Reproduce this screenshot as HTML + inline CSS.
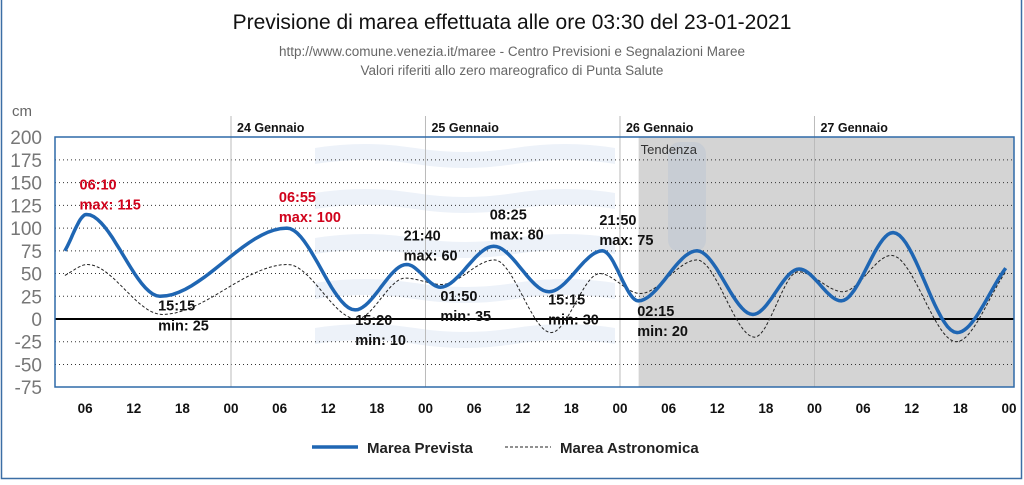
<!DOCTYPE html>
<html><head><meta charset="utf-8"><style>
body{margin:0;background:#fff;width:1024px;height:480px;overflow:hidden;font-family:"Liberation Sans",sans-serif}
</style></head><body>
<svg id="c" width="1024" height="480" xmlns="http://www.w3.org/2000/svg" font-family="Liberation Sans, sans-serif">
<rect x="1.5" y="-2" width="1020" height="480.5" fill="none" stroke="#3b6ea5" stroke-width="1.5"/>
<text x="512" y="29" font-size="21" text-anchor="middle" fill="#111">Previsione di marea effettuata alle ore 03:30 del 23-01-2021</text>
<text x="512" y="56" font-size="13.5" text-anchor="middle" fill="#666">http://www.comune.venezia.it/maree - Centro Previsioni e Segnalazioni Maree</text>
<text x="512" y="75" font-size="13.5" text-anchor="middle" fill="#666">Valori riferiti allo zero mareografico di Punta Salute</text>
<text x="12" y="116" font-size="15" fill="#666">cm</text>
<g id="bg"></g><g id="grid"></g><g id="marks"></g><g id="labels"></g>
<g>
<line x1="312" y1="447" x2="358" y2="447" stroke="#1f66b3" stroke-width="3.5"/>
<text x="367" y="453" font-size="15" font-weight="bold" fill="#222">Marea Prevista</text>
<line x1="505" y1="447" x2="551" y2="447" stroke="#222" stroke-width="1" stroke-dasharray="3,2"/>
<text x="560" y="453" font-size="15" font-weight="bold" fill="#222">Marea Astronomica</text>
</g>
</svg>
<script>
const yTicks=[200,175,150,125,100,75,50,25,0,-25,-50,-75];
const dayLabels=["24 Gennaio","25 Gennaio","26 Gennaio","27 Gennaio"];
const xTickLabels=["06","12","18","00","06","12","18","00","06","12","18","00","06","12","18","00","06","12","18","00"];
const prevHours=[3.5,6.17,15.25,30.9,39.33,45.67,49.83,56.42,63.25,69.83,74.25,81.5,88.4,94.1,99.3,105.7,113.6,119.6];
const prevValues=[75,115,25,100,10,60,35,80,30,75,20,75,5,55,20,95,-15,56];
const astroHours=[3.5,6.3,15.5,31,39.5,45.5,50,56.5,63.5,69.5,74.5,81.5,88.6,94,99.5,105.5,113.5,119.6];
const astroValues=[48,60,5,60,0,45,38,65,-15,50,28,65,-20,52,30,70,-25,52];
const annotTimes=["06:10","06:55","15:15","21:40","01:50","08:25","15:20","15:15","21:50","02:15"];
const annotTexts=["max: 115","max: 100","min: 25","max: 60","min: 35","max: 80","min: 10","min: 30","max: 75","min: 20"];
const annotHours=[6.17,30.9,15.25,45.67,49.83,56.42,39.33,63.25,69.83,74.25];
const annotValues=[115,100,25,60,35,80,10,30,75,20];
const tendenzaStart=74.3;

const L=55,R=1014,T=137,B=387;
const X=h=>231+(h-24)*8.104;
const Y=v=>319-v*(250/275);
const NS="http://www.w3.org/2000/svg";
function mk(p,t,a){const e=document.createElementNS(NS,t);for(const k in a)e.setAttribute(k,a[k]);p.appendChild(e);return e;}
const bg=document.getElementById('bg'),grid=document.getElementById('grid'),marks=document.getElementById('marks'),lab=document.getElementById('labels');

for(let i=0;i<5;i++){const w=mk(bg,'path',{d:`M315 ${148+i*45} q50 -8 100 0 t100 0 t100 0 l0 16 q-50 -8 -100 0 t-100 0 t-100 0z`,fill:'#edf2f9'});

}
const sh=mk(bg,'rect',{x:X(tendenzaStart),y:T,width:R-X(tendenzaStart),height:B-T,fill:'#d4d4d4'});


const wm=mk(bg,'rect',{x:668,y:142,width:38,height:110,rx:12,fill:'#c8cdd4'});


const tt=mk(bg,'text',{x:X(tendenzaStart)+2,y:154,'font-size':13,fill:'#333'});tt.textContent='Tendenza';



yTicks.forEach(v=>{
 if(v!==200&&v!==-75&&v!==0){const g=mk(grid,'line',{x1:L,x2:R,y1:Y(v),y2:Y(v),stroke:'#333','stroke-width':1,'stroke-dasharray':'1,3'});
 
 }
 const t=mk(grid,'text',{x:42,y:Y(v)+7,'font-size':19,'text-anchor':'end',fill:'#777'});t.textContent=v;
 
 
});
dayLabels.forEach((d,i)=>{const x=X(24*(i+1));
 const l=mk(grid,'line',{x1:x,x2:x,y1:116,y2:B,stroke:'#bbb','stroke-width':1});
 
 
 const t=mk(grid,'text',{x:x+6,y:132,'font-size':12.5,'font-weight':'bold',fill:'#111'});t.textContent=d;
 
 
});
xTickLabels.forEach((s,i)=>{const t=mk(grid,'text',{x:X(6*(i+1)),y:413,'font-size':13.5,'font-weight':'bold','text-anchor':'middle',fill:'#111'});t.textContent=s;
 
 });
const z=mk(grid,'line',{x1:L,x2:R,y1:Y(0),y2:Y(0),stroke:'#000','stroke-width':2});


const fr=mk(grid,'rect',{x:L,y:T,width:R-L,height:B-T,fill:'none',stroke:'#2f6aa8','stroke-width':1.5});



function mono(xs,ys){const n=xs.length,d=[],m=[];
 for(let i=0;i<n-1;i++)d.push((ys[i+1]-ys[i])/(xs[i+1]-xs[i]));
 m[0]=d[0];m[n-1]=d[n-2];
 for(let i=1;i<n-1;i++)m[i]=(d[i-1]*d[i]<=0)?0:(d[i-1]+d[i])/2;
 let p='';
 for(let i=0;i<n-1;i++){const h=xs[i+1]-xs[i];
  for(let k=0;k<=20;k++){const t=k/20,t2=t*t,t3=t2*t;
   const v=(2*t3-3*t2+1)*ys[i]+(t3-2*t2+t)*h*m[i]+(-2*t3+3*t2)*ys[i+1]+(t3-t2)*h*m[i+1];
   p+=(p?'L':'M')+X(xs[i]+t*h).toFixed(1)+' '+Y(v).toFixed(1);}}
 return p;}
const a=mk(marks,'path',{d:mono(astroHours,astroValues),fill:'none',stroke:'#222','stroke-width':1,'stroke-dasharray':'3,2'});


const p=mk(marks,'path',{d:mono(prevHours,prevValues),fill:'none',stroke:'#1f66b3','stroke-width':3.5});



const offs=[[-7,-25],[-8,-26],[-2,14],[-3,-24],[0,14],[-4,-27],[0,15],[-1,13],[-3,-26],[-1,15]];
const red=[0,1];
annotTimes.forEach((s,i)=>{const x=X(annotHours[i])+offs[i][0],y=Y(annotValues[i])+offs[i][1];
 const c=red.includes(i)?'#d0021b':'#111';
 const t1=mk(lab,'text',{x:x,y:y,'font-size':14.5,'font-weight':'bold',fill:c});t1.textContent=s;
 
 
 const t2=mk(lab,'text',{x:x,y:y+20,'font-size':14.5,'font-weight':'bold',fill:c});t2.textContent=annotTexts[i];
 
 
});
</script>
</body></html>
